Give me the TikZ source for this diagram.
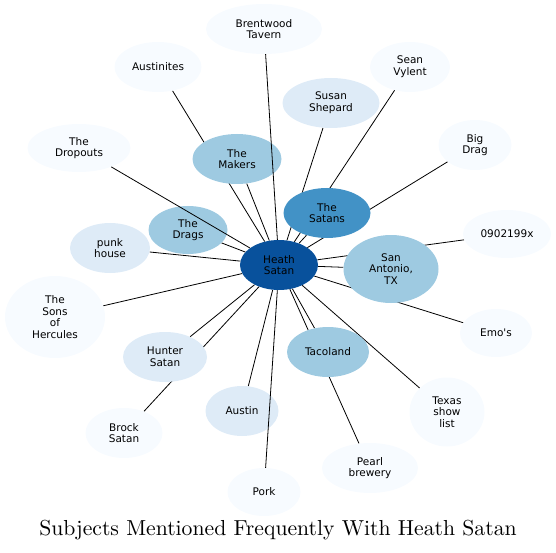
\documentclass[tikz,border=0pt]{standalone}
\usepackage{fontspec}
\newfontfamily\dejavu{DejaVu Sans}
\newfontfamily\titlefont{lmroman10-regular}[Extension=.otf]
\usetikzlibrary{shapes.geometric,backgrounds}
\definecolor{blueA}{HTML}{08519C}
\definecolor{blueB}{HTML}{4292C6}
\definecolor{blueC}{HTML}{9ECAE1}
\definecolor{blueD}{HTML}{DEEBF7}
\definecolor{blueE}{HTML}{F7FBFF}

\begin{document}
\begin{tikzpicture}[x=1pt, y=-1pt,
    every node/.style={font=\dejavu\fontsize{10.5}{11.7}\selectfont, align=center},
    subj/.style={ellipse, inner sep=0pt, minimum height=50pt},
    link/.style={line width=0.8pt, black}]
    \useasboundingbox (0,0) rectangle (556,553);
    % centre of the star
    \node[subj, fill=blueA, minimum width=78pt] (heath) at (279,265) {Heath\\Satan};
    % most frequent subjects
    \node[subj, fill=blueB, minimum width=87pt] (satans) at (327,213) {The\\Satans};
    \node[subj, fill=blueC, minimum width=89pt] (makers) at (237,159) {The\\Makers};
    \node[subj, fill=blueC, minimum width=79pt, minimum height=48pt] (drags) at (188,230) {The\\Drags};
    \node[subj, fill=blueC, minimum width=95pt, minimum height=68pt] (sanantonio) at (391,269) {San\\Antonio,\\TX};
    \node[subj, fill=blueC, minimum width=82pt] (tacoland) at (328,352) {Tacoland};
    \node[subj, fill=blueD, minimum width=97pt] (susan) at (331,103) {Susan\\Shepard};
    \node[subj, fill=blueD, minimum width=80pt] (punk) at (110,248) {punk\\house};
    \node[subj, fill=blueD, minimum width=84pt] (hunter) at (165,357) {Hunter\\Satan};
    \node[subj, fill=blueD, minimum width=73pt] (austin) at (242,411) {Austin};
    % less frequent subjects
    \node[subj, fill=blueE, minimum width=116pt] (brentwood) at (264,29) {Brentwood\\Tavern};
    \node[subj, fill=blueE, minimum width=87pt] (austinites) at (158,67) {Austinites};
    \node[subj, fill=blueE, minimum width=80pt] (sean) at (410,67) {Sean\\Vylent};
    \node[subj, fill=blueE, minimum width=73pt] (bigdrag) at (475,145) {Big\\Drag};
    \node[subj, fill=blueE, minimum width=103pt, minimum height=48pt] (dropouts) at (79,148) {The\\Dropouts};
    \node[subj, fill=blueE, minimum width=88pt, minimum height=48pt] (code) at (507,234) {0902199x};
    \node[subj, fill=blueE, minimum width=100pt, minimum height=82pt] (sons) at (55,317) {The\\Sons\\of\\Hercules};
    \node[subj, fill=blueE, minimum width=72pt, minimum height=48pt] (emos) at (496,333) {Emo's};
    \node[subj, fill=blueE, minimum width=75pt, minimum height=69pt] (texas) at (447,412) {Texas\\show\\list};
    \node[subj, fill=blueE, minimum width=96pt] (pearl) at (370,468) {Pearl\\brewery};
    \node[subj, fill=blueE, minimum width=77pt] (brock) at (124,433) {Brock\\Satan};
    \node[subj, fill=blueE, minimum width=73pt, minimum height=48pt] (pork) at (264,492) {Pork};
    % edges behind the nodes
    \begin{scope}[on background layer]
        \foreach \n in {satans,makers,drags,sanantonio,tacoland,susan,punk,hunter,austin,
                        austinites,sean,bigdrag,code,sons,emos,texas,pearl,brock}
            \draw[link] (heath) -- (\n);
    \end{scope}
    % these three cross over the nodes
    \draw[link] (heath) -- (brentwood);
    \draw[link] (heath) -- (dropouts);
    \draw[link] (heath) -- (pork);
    \node[font=\titlefont\fontsize{21.7}{25}\selectfont] (title) at (278,530) {Subjects Mentioned Frequently With Heath Satan};
\end{tikzpicture}
\end{document}
